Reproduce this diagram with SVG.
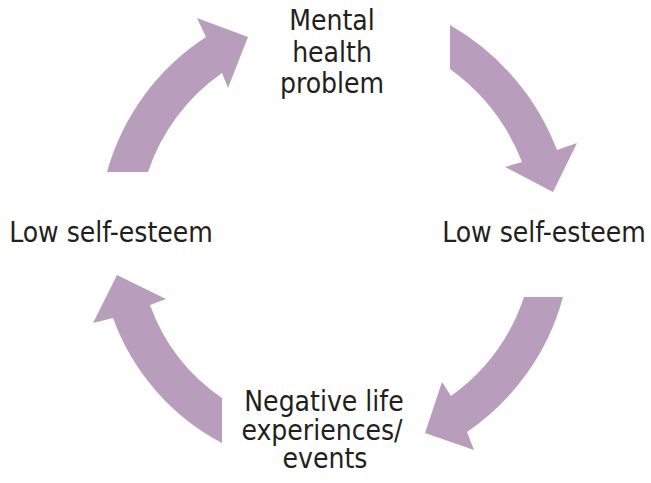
<svg xmlns="http://www.w3.org/2000/svg" width="651" height="483" viewBox="0 0 651 483">
<style>
.arrow{fill:#b99dbc;stroke:none}
.lbl{font-family:"DejaVu Sans Condensed","DejaVu Sans",sans-serif;font-size:28px;fill:#231f20;text-anchor:middle}
</style>
<rect width="651" height="483" fill="#ffffff"/>
<g id="connectors">
<path id="arrow-top-left" class="arrow" d="M107,172 A236,236 0 0 1 206,37 L197,18 L248,37 L228,88 L222,73 A197,197 0 0 0 148,172 Z"/>
<path id="arrow-top-right" class="arrow" d="M450,25 A245,245 0 0 1 557,150 L577,143 L553,192 L505,167 L522,162 A208,208 0 0 0 450,69 Z"/>
<path id="arrow-bottom-right" class="arrow" d="M563,297 A238,238 0 0 1 467,432 L474,450 L425,433 L442,382 L451,396 A200,200 0 0 0 524,297 Z"/>
<path id="arrow-bottom-left" class="arrow" d="M222,443 A230,230 0 0 1 113,318 L93,323 L117,275 L166,299 L150,305 A191,191 0 0 0 222,398 Z"/>
</g>
<g id="node-mental-health">
<text class="lbl" x="332" y="30">Mental</text>
<text class="lbl" x="332" y="62">health</text>
<text class="lbl" x="332" y="93">problem</text>
</g>
<g id="node-low-self-esteem-right">
<text class="lbl" x="544" y="242">Low self-esteem</text>
</g>
<g id="node-negative-life">
<text class="lbl" x="324" y="411">Negative life</text>
<text class="lbl" x="322" y="440">experiences/</text>
<text class="lbl" x="325" y="468">events</text>
</g>
<g id="node-low-self-esteem-left">
<text class="lbl" x="111" y="242">Low self-esteem</text>
</g>
</svg>
